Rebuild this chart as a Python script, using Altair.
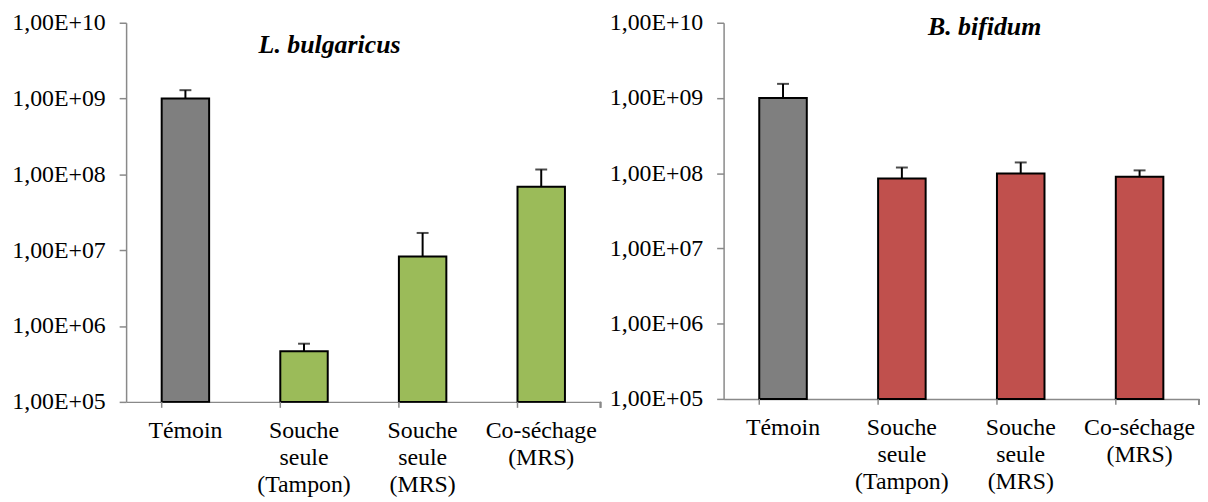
import altair as alt
import pandas as pd

categories = ["Témoin", "Souche\nseule\n(Tampon)", "Souche\nseule\n(MRS)", "Co-séchage\n(MRS)"]
lb_values = [1.0e9, 4.64e5, 8.27e6, 6.87e7]
lb_err_top = [1.29e9, 5.85e5, 1.69e7, 1.16e8]
bb_values = [1.0e9, 8.49e7, 9.88e7, 9.0e7]
bb_err_top = [1.54e9, 1.19e8, 1.39e8, 1.09e8]
y_ticks = [1e5, 1e6, 1e7, 1e8, 1e9, 1e10]
titles = ["L. bulgaricus", "B. bifidum"]

GRAY_AXIS = "#898989"
FONT = "Liberation Serif"


def panel(values, errs, title, fill, width, height, tx, ty):
    df = pd.DataFrame({"cat": categories, "val": values, "err": errs})
    base = alt.Chart(df)
    xscale = alt.Scale(paddingInner=0.6, paddingOuter=0.3)
    yscale = alt.Scale(type="log", domain=[1e5, 1e10], nice=False)
    x = alt.X("cat:N", sort=categories, scale=xscale, title=None,
              axis=alt.Axis(labelAngle=0, ticks=False, domainColor=GRAY_AXIS,
                            domainWidth=1.5, labelFontSize=24, labelFont=FONT,
                            labelColor="black", labelLineHeight=27,
                            labelPadding=17, labelLimit=300,
                            labelExpr="split(datum.label, '\\n')"))
    y = alt.Y("val:Q", scale=yscale, title=None,
              axis=alt.Axis(values=y_ticks, tickSize=7, tickColor=GRAY_AXIS,
                            tickWidth=1.5, domainColor=GRAY_AXIS, domainWidth=1.5,
                            grid=False, labelFontSize=24, labelFont=FONT,
                            labelColor="black", labelPadding=14,
                            labelExpr="'1,00E+' + (round(log(datum.value)/LN10) < 10 ? '0' : '') + round(log(datum.value)/LN10)"))
    bars = base.mark_bar(stroke="black", strokeWidth=2).encode(
        x=x, y=y, y2=alt.datum(1e5),
        fill=alt.condition(alt.datum.cat == categories[0], alt.value("#7F7F7F"), alt.value(fill)),
    )
    err = base.mark_rule(color="black", strokeWidth=2).encode(
        x=alt.X("cat:N", sort=categories), y="val:Q", y2="err:Q")
    cap = base.mark_tick(color="black", thickness=2, size=12, orient="horizontal").encode(
        x=alt.X("cat:N", sort=categories), y="err:Q")
    xt = base.mark_rule(color=GRAY_AXIS, strokeWidth=1.5).encode(
        x=alt.X("cat:N", sort=categories, bandPosition=0),
        y=alt.value(height), y2=alt.value(height + 6))
    xt_end = base.mark_rule(color=GRAY_AXIS, strokeWidth=1.5).encode(
        x=alt.value(width), y=alt.value(height), y2=alt.value(height + 6))
    ttl = alt.Chart(pd.DataFrame({"t": [title]})).mark_text(
        font=FONT, fontSize=26, fontStyle="italic", fontWeight="bold",
        align="center", baseline="alphabetic", color="black").encode(
        text="t:N", x=alt.value(tx), y=alt.value(ty))
    return alt.layer(bars, err, cap, xt, xt_end, ttl).properties(width=width, height=height)


left = panel(lb_values, lb_err_top, titles[0], "#9BBB59", 478, 382, 205, 30)
right = panel(bb_values, bb_err_top, titles[1], "#C0504D", 479, 379, 263, 12)

chart = alt.hconcat(left, right, spacing=7).properties(
    padding={"left": 3, "top": 1, "right": 0, "bottom": 0}
).configure_view(stroke=None)

chart.save("out.html", embed_options={"renderer": "svg", "actions": False})
